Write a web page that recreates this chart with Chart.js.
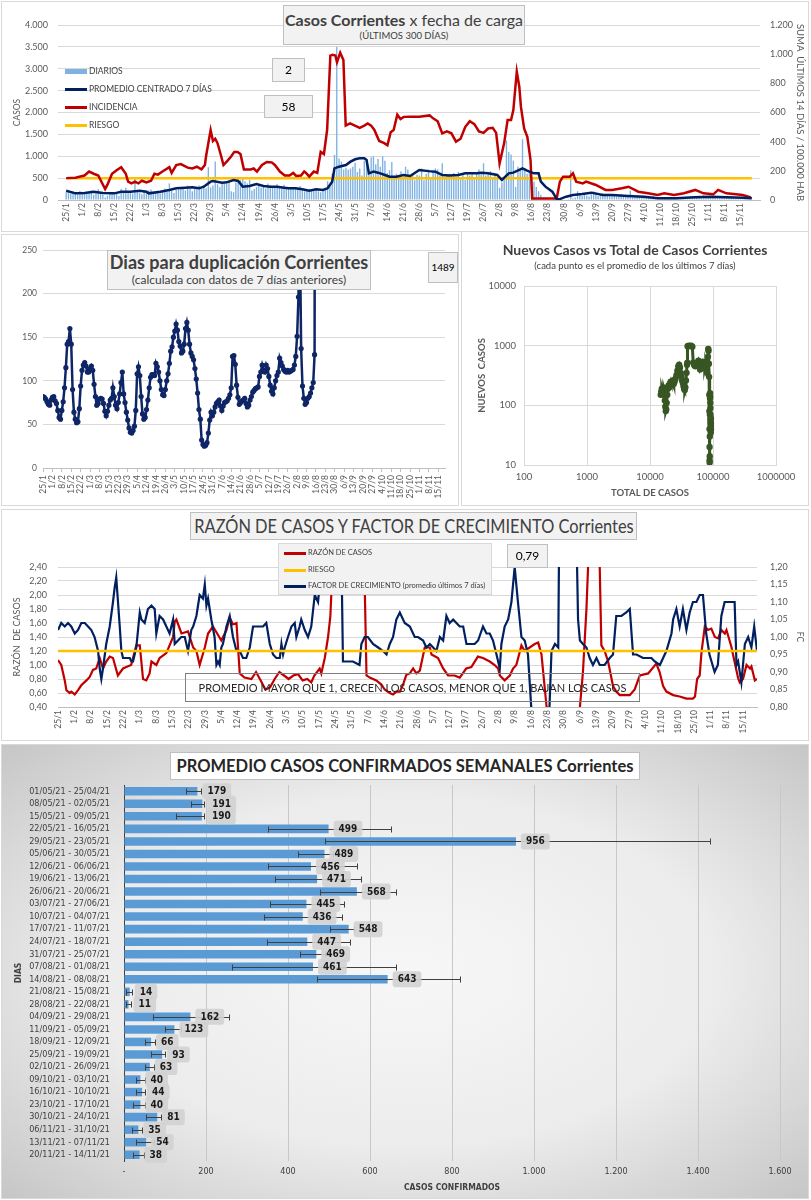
<!DOCTYPE html>
<html lang="es">
<head>
<meta charset="utf-8">
<title>Casos Corrientes</title>
<script src="https://cdn.jsdelivr.net/npm/chart.js@4.4.0/dist/chart.umd.min.js"></script>
<style>
  body { margin: 0; background: #fff; font-family: Lato, 'Open Sans', sans-serif; }
  #lienzo { position: relative; width: 811px; height: 1200px; overflow: hidden; }
  .panel { position: absolute; outline: 1px solid #d9d9d9; background: #fff; }
  .panel canvas { position: absolute; left: 0; top: 0; }
  .caja { position: absolute; box-sizing: border-box; background: #f2f2f2; border: 1px solid #bfbfbf;
          text-align: center; color: #404040; white-space: nowrap; }
  .leyenda { position: absolute; font-size: 8.5px; color: #404040; }
  .leyenda div { position: relative; height: 18px; line-height: 18px; padding-left: 24px; white-space: nowrap; }
  .leyenda span { position: absolute; left: 0; top: 8px; width: 22px; height: 3px; }
</style>
</head>
<body>
<div id="lienzo">
  <!-- panel 1: casos diarios -->
  <div class="panel" style="left:2px;top:2px;width:806px;height:229px;">
    <canvas id="graficoCasos" width="806" height="229"></canvas>
  </div>
  <div class="caja" style="left:283px;top:5px;width:242px;height:40px;">
    <div style="font-size:16px;line-height:21px;margin-top:3px;"><b>Casos Corrientes</b> x fecha de carga</div>
    <div style="font-size:9.5px;line-height:12px;">(ÚLTIMOS 300 DÍAS)</div>
  </div>
  <div class="leyenda" style="left:65px;top:62px;">
    <div><span style="background:#7FB2E0;height:5px;top:7px;"></span>DIARIOS</div>
    <div><span style="background:#002060;"></span>PROMEDIO CENTRADO 7 DÍAS</div>
    <div><span style="background:#C00000;"></span>INCIDENCIA</div>
    <div><span style="background:#FFC000;"></span>RIESGO</div>
  </div>
  <div class="caja" style="left:272px;top:58px;width:33px;height:24px;line-height:22px;font-size:12px;color:#000;">2</div>
  <div class="caja" style="left:264px;top:95px;width:49px;height:23px;line-height:21px;font-size:12px;color:#000;">58</div>

  <!-- panel 2: días para duplicación -->
  <div class="panel" style="left:2px;top:235px;width:456px;height:270px;">
    <canvas id="graficoDuplicacion" width="456" height="270"></canvas>
  </div>
  <div class="caja" style="left:107px;top:250px;width:264px;height:40px;">
    <div style="font-size:18px;line-height:21px;margin-top:1px;font-weight:bold;">Dias para duplicación Corrientes</div>
    <div style="font-size:12px;line-height:14px;">(calculada con datos de 7 días anteriores)</div>
  </div>
  <div class="caja" style="left:428px;top:252px;width:30px;height:31px;line-height:29px;font-size:10px;color:#000;">1489</div>

  <!-- panel 3: nuevos vs total -->
  <div class="panel" style="left:462px;top:232px;width:346px;height:273px;">
    <canvas id="graficoNuevos" width="346" height="273"></canvas>
  </div>
  <div style="position:absolute;left:462px;top:241px;width:346px;text-align:center;color:#404040;">
    <div style="font-size:14px;line-height:18px;font-weight:bold;">Nuevos Casos vs Total de Casos Corrientes</div>
    <div style="font-size:9.5px;line-height:13px;">(cada punto es el promedio de los últimos 7 días)</div>
  </div>

  <!-- panel 4: razón y factor de crecimiento -->
  <div class="panel" style="left:2px;top:510px;width:806px;height:230px;">
    <canvas id="graficoRazon" width="806" height="230"></canvas>
  </div>
  <div class="caja" style="left:190px;top:512px;width:447px;height:28px;line-height:26px;font-size:19.5px;">
    <span style="position:absolute;left:50%;top:0;transform:translateX(-50%) scaleX(0.84);">RAZÓN DE CASOS Y FACTOR DE CRECIMIENTO Corrientes</span>
  </div>
  <div class="caja leyenda" style="left:278px;top:543px;width:214px;height:52px;text-align:left;border-color:#d9d9d9;font-size:7.5px;padding-top:1px;">
    <div style="height:16.5px;line-height:16.5px;margin-left:5px;"><span style="background:#C00000;top:7px;"></span>RAZÓN DE CASOS</div>
    <div style="height:16.5px;line-height:16.5px;margin-left:5px;"><span style="background:#FFC000;top:7px;"></span>RIESGO</div>
    <div style="height:16.5px;line-height:16.5px;margin-left:5px;"><span style="background:#002060;top:7px;"></span>FACTOR DE CRECIMIENTO (promedio últimos 7 días)</div>
  </div>
  <div class="caja" style="left:507px;top:544px;width:41px;height:24px;line-height:22px;font-size:12px;color:#000;">0,79</div>
  <div class="caja" style="left:185px;top:673px;width:455px;height:29px;line-height:27px;font-size:11px;background:transparent;border-color:#7f7f7f;color:#262626;">PROMEDIO MAYOR QUE 1, CRECEN LOS CASOS, MENOR QUE 1, BAJAN LOS CASOS</div>

  <!-- panel 5: promedio semanal -->
  <div class="panel" style="left:2px;top:745px;width:806px;height:453px;background:radial-gradient(ellipse at 50% 50%, #f7f7f7 0%, #ececec 55%, #c6c6c6 100%);">
    <canvas id="graficoSemanal" width="806" height="453"></canvas>
  </div>
  <div class="caja" style="left:170px;top:752px;width:470px;height:28px;line-height:26px;font-size:16.5px;font-weight:bold;background:#fff;color:#262626;">PROMEDIO CASOS CONFIRMADOS SEMANALES Corrientes</div>
</div>

<script>
// ---- eje temporal (día 0 = 25/1/2021, últimos 300 días) ----
const fechasSemana = ['25/1','1/2','8/2','15/2','22/2','1/3','8/3','15/3','22/3','29/3','5/4','12/4','19/4','26/4',
  '3/5','10/5','17/5','24/5','31/5','7/6','14/6','21/6','28/6','5/7','12/7','19/7','26/7','2/8','9/8','16/8',
  '23/8','30/8','6/9','13/9','20/9','27/9','4/10','11/10','18/10','25/10','1/11','8/11','15/11'];

// casos diarios (barras), un valor por día
const diarios = [
  180,160,150,200,170,130,210,  190,150,140,170,220,120,170,  250,160,120,60,100,180,150,
  130,170,90,250,190,280,170,   190,150,480,210,160,130,200,  180,220,240,180,160,210,150,
  200,260,190,380,220,160,230,  240,300,260,220,330,250,200,  300,280,340,250,310,270,750,
  290,330,880,360,300,420,380,  380,450,200,180,400,420,460,  500,430,380,460,220,250,300,
  350,280,300,260,380,330,300,  310,360,300,280,350,290,270,  300,260,280,250,320,240,200,
  220,260,240,230,270,200,180,  250,280,430,350,600,1030,3500, 950,880,700,740,690,720,760,
  850,640,720,560,900,870,700,  980,1000,820,940,760,1000,900, 620,680,870,540,600,560,660,
  480,760,700,520,600,450,580,  560,720,450,600,700,520,650,  720,700,560,840,500,580,600,
  560,620,540,640,500,580,460,  600,560,640,480,620,700,580,  840,560,600,660,520,600,500,
  280,400,520,1360,1100,1040,900, 300,760,680,1390,720,600,640, 480,420,300,200,120,60,40,
  20,10,0,0,0,0,0,              0,10,20,680,40,60,200,        150,90,120,100,80,130,200,
  180,90,110,150,140,100,120,   90,110,80,100,130,90,70,      80,220,60,90,100,70,60,
  80,60,50,70,90,60,50,         50,40,60,30,50,40,60,         40,50,30,40,60,50,40,
  60,50,70,90,50,110,80,        70,60,80,100,50,60,70,        60,50,70,90,60,40,50,
  40,30,50,40,30,20
];

// promedio centrado 7 días [día, casos]
const promedio7 = [[0,213],[4,152],[8,160],[12,190],[16,160],[21,152],[24,190],[28,190],[32,213],[35,190],[36,152],
  [41,190],[45,229],[48,267],[52,280],[55,290],[58,267],[60,305],[63,419],[64,435],[68,396],[70,404],[73,457],[75,435],
  [77,305],[80,320],[83,366],[86,320],[89,305],[92,305],[95,282],[97,267],[100,267],[103,244],[106,213],[109,244],
  [112,229],[114,267],[116,419],[117,724],[119,762],[122,800],[124,876],[126,930],[128,952],[130,952],[131,914],
  [132,610],[134,648],[136,625],[139,572],[141,533],[144,533],[147,572],[150,550],[154,686],[158,660],[161,648],
  [164,572],[167,560],[171,572],[174,610],[179,610],[181,625],[184,610],[188,572],[190,457],[193,610],[195,625],
  [199,724],[201,670],[204,610],[206,610],[207,419],[209,305],[212,190],[214,15],[215,15],[218,76],[221,114],
  [225,137],[229,168],[234,114],[238,114],[245,91],[252,76],[258,38],[266,38],[274,61],[281,76],[288,61],[295,53],[299,38]];

// incidencia: suma últimos 14 días / 100.000 hab [día, valor]
const incidencia = [[0,150],[4,153],[8,168],[10,195],[12,180],[14,168],[17,75],[18,105],[20,180],[22,204],[24,225],
  [26,180],[27,126],[28.5,114],[30,126],[31.5,114],[33,132],[35,120],[37,132],[38.5,180],[40,174],[42,195],[45,225],
  [46,186],[48,240],[50,246],[53,222],[55,216],[57,228],[59,210],[60.5,240],[61,300],[63,480],[64,405],[65,420],
  [66,390],[67.6,300],[68.6,240],[70.4,270],[72,300],[73.3,330],[74.7,330],[76,315],[77.5,210],[80.4,210],[81.8,216],
  [83.2,195],[85.4,240],[87.5,261],[89.6,258],[91,240],[93.2,195],[95.3,168],[97.4,168],[99,186],[100.3,165],
  [102.4,168],[103.8,195],[104.6,186],[106,160],[108,195],[109.5,186],[111,330],[112.4,315],[113.8,480],[115.2,990],
  [116.2,995],[117.4,990],[118.1,945],[119.5,1010],[120.9,960],[121.9,510],[123.8,525],[125.9,510],[128,495],
  [130,510],[131.5,525],[133,510],[134.4,480],[136.5,405],[138.7,390],[140.1,375],[141.5,465],[142.8,480],
  [144.4,585],[145.8,555],[147.2,570],[150,571],[154,571],[158.5,580],[160,560],[162,540],[164,457],[166,470],
  [168,457],[170,400],[172,420],[174,500],[176,540],[178,520],[180,470],[182,460],[184,490],[186,495],[187.5,460],
  [189,251],[191,390],[192.5,549],[194,549],[195,617],[196.5,880],[197.6,777],[198.3,640],[199.7,491],[201.1,434],
  [202.5,274],[203.2,11],[213.9,11],[215.3,126],[216.7,160],[219.6,160],[221,183],[222.4,126],[225.3,114],
  [226.7,126],[231,103],[235.2,69],[238.1,69],[242.3,80],[245.2,91],[249.5,57],[253.7,46],[258,34],[260.8,46],
  [265.1,34],[269.4,46],[274.3,69],[277.9,46],[282.2,39],[284.3,69],[287.9,46],[292.1,39],[295,34],[298.6,18]];
const riesgoIncidencia = 150;

// días para duplicación, un valor por día desde 25/1
const duplicacion = [
  82,81,79,76,73,72,78,81,82,77,  74,66,58,56,66,76,92,115,142,145,  160,142,90,64,56,52,53,68,94,112,
  118,121,117,110,110,114,117,112,96,82,  72,74,79,80,79,74,65,60,65,72,  78,80,92,82,72,68,75,85,98,110,
  85,75,64,55,46,41,40,43,48,66,  108,116,106,82,62,56,58,67,78,92,  104,107,107,106,120,116,110,100,90,84,
  83,90,100,108,120,134,139,150,157,165,  158,145,140,132,134,142,160,167,158,142,  132,128,124,114,102,86,67,56,32,27,
  25,26,29,40,55,64,60,64,70,74,  76,78,71,66,71,75,76,77,80,84,  92,128,129,119,95,81,73,75,77,78,
  80,74,70,72,78,82,87,89,91,92,  93,105,110,118,112,110,118,114,105,95,  88,85,92,100,106,110,126,121,117,113,
  111,110,112,110,111,112,113,118,128,151,  196,280,137,94,80,73,75,80,82,86,  92,98,130,1489
];

// nuevos casos (promedio 7 días) vs total acumulado
const totalCasos = [14800,15100,15400,15700,16000,16300,16600,16900,17200,17500,17800,18100,18400,18800,19200,19700,
  20200,20700,21300,21900,22500,23200,23900,24600,25400,26300,27200,28100,29000,29900,30800,31600,32400,33200,34000,
  34800,35600,36400,37200,38000,38700,39200,39500,41000,43000,45000,47000,48500,50500,52500,54500,56500,58500,60500,
  62500,64500,66500,68500,70500,72500,74000,75500,77000,78500,80000,81000,82000,83000,84000,85000,86000,86800,87300,
  87700,88000,88200,88400,88600,88800,89000,89300,89600,89900,90200,90500,90800,91000,91200,91400,91600,91800,92000,
  92200,92400,92600,92800,93000];
const nuevosCasos = [150,170,190,175,160,200,185,150,120,95,80,85,110,150,190,215,
  200,230,250,220,240,260,230,250,280,320,380,450,480,430,350,300,260,240,210,
  190,180,200,260,350,480,520,980,1000,990,1000,960,520,470,450,500,520,560,480,
  400,430,520,540,500,450,420,460,520,480,400,350,480,650,880,820,500,300,150,
  80,40,20,12,11,14,30,70,130,160,140,110,90,70,60,55,50,40,45,
  35,50,60,45,40];

// razón de casos [día, razón] y factor de crecimiento [día, FC]
const razonCasos = [[0,1.07],[1.4,1.00],[2.9,0.78],[3.6,0.64],[5,0.60],[5.7,0.62],[7.2,0.58],[8.6,0.64],[10,0.71],
  [12.2,0.78],[13.6,0.83],[15,0.93],[16.4,0.95],[17.9,1.10],[19.3,0.95],[20.7,1.05],[22.2,1.12],[23.6,1.10],[25.7,0.85],
  [27.9,0.95],[29.3,0.97],[31.4,1.00],[33.6,1.28],[35.1,1.28],[36.5,0.80],[37.9,0.78],[39.3,0.88],[40.1,1.05],[42.2,1.00],
  [43.6,1.10],[46.5,1.17],[49.4,1.40],[50.1,1.62],[50.8,1.65],[53,1.45],[55.8,1.48],[58,1.25],[59.4,1.20],[60.8,1.00],
  [63,1.25],[64.4,1.45],[66.5,1.55],[70.1,1.35],[72.3,1.50],[73.7,1.68],[75.1,1.58],[76.6,1.60],[78,0.88],[80,0.82],
  [83,0.80],[85,0.90],[87,0.78],[89,0.65],[91,0.68],[93,0.80],[95,0.90],[97,0.85],[99,0.80],[101,0.85],[103,0.87],
  [105,0.78],[107,0.80],[108.7,0.75],[110,0.85],[112.3,0.95],[113,0.88],[114.5,1.10],[115.9,1.40],[116.9,1.70],
  [117.8,2.40],[118.5,3.5],[130,3.5],[131.6,2.2],[132.4,0.85],[133.8,0.82],[136.6,0.78],[138.8,0.72],[140.2,0.65],
  [142.4,0.60],[143.8,0.58],[145.2,0.62],[146.7,0.62],[148.1,0.72],[149.5,0.86],[151,0.88],[152.4,0.95],[153.8,0.88],
  [155.3,0.92],[157.4,1.25],[159.6,1.25],[160.3,1.15],[163.1,1.10],[165.3,0.95],[167.4,0.85],[170.2,0.85],[172.4,0.82],
  [175.2,0.95],[177.4,0.97],[180.2,1.12],[182.4,1.10],[185.3,1.05],[187.4,1.00],[188.9,0.95],[189.6,0.85],[191.7,0.78],
  [193.9,0.85],[195.3,0.95],[196.7,1.00],[198.9,1.28],[200.3,1.20],[204.6,1.30],[206.1,1.32],[207.5,1.15],[209.7,0.40],
  [211,0.1],[223,0.1],[224,0.40],[225.3,0.90],[226.8,1.80],[227.5,2.40],[228.2,3.5],[232,3.5],[232.5,2.4],[233.2,1.28],
  [234.6,1.20],[236.1,1.05],[237,0.90],[238.2,0.70],[239.6,0.62],[241.1,0.57],[245.4,0.57],[247.5,0.65],[249.7,0.85],
  [253.3,0.88],[256.8,1.02],[258.2,0.90],[259.7,0.70],[261.1,0.62],[264,0.57],[266.8,0.55],[269.7,0.52],[272.5,0.52],
  [273.4,0.55],[274.3,0.80],[275.4,0.85],[276.2,1.19],[277.6,1.55],[279,1.50],[280.4,1.52],[281.9,1.40],[283.3,1.38],
  [284.7,1.50],[286.2,1.45],[286.9,1.50],[289,1.26],[289.7,1.15],[291.9,0.81],[292.6,0.75],[294,0.80],[295.5,1.00],
  [297,0.95],[297.6,0.98],[299.1,0.78],[300,0.80]];
const factorCrecimiento = [[0,1.02],[1.4,1.04],[2.9,1.03],[4.3,1.04],[5.7,1.03],[7.2,1.01],[8.6,1.02],[10,1.04],
  [11.5,1.04],[12.9,1.03],[14.3,1.02],[15.7,1.00],[17.2,0.96],[17.9,0.91],[18.6,0.88],[19.3,0.91],[20.7,0.98],[22.2,1.03],
  [23.6,1.10],[24.3,1.14],[25,1.17],[26.5,1.03],[27.2,0.96],[27.9,0.94],[29.3,0.94],[30.8,0.94],[31.5,0.93],[32.2,0.93],
  [33.6,0.97],[35.1,1.07],[35.8,1.05],[37.2,1.04],[38.6,1.08],[40.1,1.09],[41.5,1.08],[42.2,1.01],[43.6,1.06],[45.1,1.05],
  [46.5,1.03],[47.9,1.01],[49.4,1.05],[50.1,0.98],[51.5,0.99],[52.9,1.00],[54.4,1.00],[55.8,0.96],[57.2,1.02],[58,1.03],
  [59.4,1.06],[60.8,1.12],[62.2,1.11],[63,1.15],[63.7,1.09],[64.4,1.11],[65.8,1.05],[67.2,1.00],[68,0.92],[68.7,0.93],
  [69.4,0.92],[70.1,0.97],[70.8,0.98],[72.3,1.03],[73.7,1.06],[75.1,1.00],[76.6,0.96],[78,0.96],[79.4,0.94],[80.8,0.94],
  [82.3,0.97],[83.7,1.03],[85.1,1.03],[86.6,1.03],[88,1.03],[89.4,1.04],[90.9,0.98],[92.3,0.95],[93.7,0.94],[95.2,0.94],
  [95.9,0.98],[96.6,0.95],[97.3,0.97],[98.7,1.00],[100.2,1.03],[101.6,1.04],[102.3,1.00],[103.7,1.03],[104.4,1.05],
  [105.9,1.02],[107.3,1.00],[108.7,1.03],[110.2,1.12],[111.6,1.10],[113,1.20],[114,1.30],[121.5,1.30],[122.3,0.93],
  [123.7,0.93],[126.6,0.93],[129.4,0.92],[130.2,0.98],[131.6,1.00],[133,1.00],[135.2,0.98],[137.4,0.97],[139.5,0.96],
  [141,0.95],[142.4,0.98],[143.8,1.00],[145.2,1.05],[146.7,1.07],[148.8,1.04],[151,1.03],[153.1,1.00],[154.5,1.00],
  [156.7,0.99],[158.1,0.97],[159.6,0.98],[161,0.97],[162.4,0.96],[163.9,1.00],[165.3,0.99],[166.7,1.06],[168.1,1.04],
  [169.6,1.05],[171,1.04],[172.4,1.03],[173.9,1.03],[175.3,0.98],[176.7,0.98],[178.8,0.98],[180.3,0.99],[182.4,1.03],
  [183.9,1.01],[185.3,1.01],[186.7,0.99],[188.2,0.95],[189.6,0.91],[190.3,0.98],[191.7,1.03],[193.2,1.05],[194.6,1.10],
  [196,1.20],[197.4,1.10],[198.9,1.00],[200.3,0.99],[201.7,0.95],[203.1,0.80],[203.8,0.70],[210.4,0.70],[211.8,0.96],
  [213.3,0.98],[214.7,0.97],[215.1,1.30],[222.5,1.30],[223.2,1.05],[224,0.99],[225.3,0.98],[226.8,0.97],[228.2,0.94],
  [229.6,0.92],[231.1,0.94],[232.5,0.92],[234.6,0.92],[236.8,0.94],[238.2,0.95],[239.6,1.06],[241.8,1.06],[243.9,1.07],
  [245.4,1.08],[246.8,0.95],[248.3,0.95],[251.1,0.94],[253.3,0.94],[254.7,0.94],[256.1,0.93],[258.3,0.92],[259.7,0.94],
  [261.1,0.96],[263.3,1.01],[264,1.05],[265.4,1.08],[266.8,1.03],[268.2,1.08],[269.7,1.02],[271.1,1.07],[272.5,1.10],
  [274,1.10],[275.4,1.12],[276.8,1.12],[278.2,1.01],[279.6,0.95],[281.8,0.90],[283.2,0.92],[284.7,1.06],[286.1,1.10],
  [288.3,1.10],[290.4,1.10],[291.2,0.92],[291.9,0.93],[293.3,0.87],[294.8,0.98],[296.2,1.00],[297.6,0.97],[298.8,1.03],
  [300,0.96]];
const riesgoRazon = 1.20;

// promedio semanal de casos confirmados
const semanas = ['01/05/21 - 25/04/21','08/05/21 - 02/05/21','15/05/21 - 09/05/21','22/05/21 - 16/05/21',
  '29/05/21 - 23/05/21','05/06/21 - 30/05/21','12/06/21 - 06/06/21','19/06/21 - 13/06/21','26/06/21 - 20/06/21',
  '03/07/21 - 27/06/21','10/07/21 - 04/07/21','17/07/21 - 11/07/21','24/07/21 - 18/07/21','31/07/21 - 25/07/21',
  '07/08/21 - 01/08/21','14/08/21 - 08/08/21','21/08/21 - 15/08/21','28/08/21 - 22/08/21','04/09/21 - 29/08/21',
  '11/09/21 - 05/09/21','18/09/21 - 12/09/21','25/09/21 - 19/09/21','02/10/21 - 26/09/21','09/10/21 - 03/10/21',
  '16/10/21 - 10/10/21','23/10/21 - 17/10/21','30/10/21 - 24/10/21','06/11/21 - 31/10/21','13/11/21 - 07/11/21',
  '20/11/21 - 14/11/21'];
const promedioSemanal = [179,191,190,499,956,489,456,471,568,445,436,548,447,469,461,643,14,11,162,123,66,93,63,40,44,40,81,35,54,38];
const errorMin = [150,163,128,350,490,425,350,368,478,356,342,502,348,429,263,471,5,5,71,100,50,65,52,30,30,22,53,20,30,22];
const errorMax = [188,196,196,650,1430,510,568,578,663,537,532,560,550,490,663,820,20,17,256,140,75,100,72,50,52,50,90,45,72,48];

// ---- utilidades ----
Chart.defaults.font.family = "Lato, 'Open Sans', sans-serif";
Chart.defaults.color = '#595959';
Chart.defaults.animation = false;
Chart.defaults.plugins.legend.display = false;
Chart.defaults.plugins.tooltip.enabled = false;
const fuenteAngosta = "'DejaVu Sans Condensed', 'Liberation Sans Narrow', Lato, sans-serif";

const fmtMiles = v => String(v).replace(/\B(?=(\d{3})+(?!\d))/g, '.');
const fmtComa = v => v.toFixed(2).replace('.', ',');
const pares = arr => arr.map(([x, y]) => ({ x, y }));
const fijarAncho = w => s => { s.width = w; };
const fijarAlto = h => s => { s.height = h; };

function ejeFechas(max, alto, conMarcas) {
  return {
    type: 'linear', min: 0, max,
    afterBuildTicks: s => { s.ticks = fechasSemana.map((_, i) => ({ value: i * 7 })); },
    afterFit: fijarAlto(alto),
    ticks: { autoSkip: false, minRotation: 90, maxRotation: 90, padding: 3, font: { size: 8.5 },
             callback: v => fechasSemana[Math.round(v / 7)] },
    grid: { drawOnChartArea: false, drawTicks: conMarcas, tickLength: 4, color: '#bfbfbf' },
    border: { color: '#bfbfbf' }
  };
}

// ---- 1: casos corrientes x fecha de carga ----
new Chart(document.getElementById('graficoCasos'), {
  type: 'bar',
  data: {
    datasets: [
      { type: 'line', data: pares(promedio7), yAxisID: 'yCasos', borderColor: '#002060', borderWidth: 2.5, pointRadius: 0, order: 1 },
      { type: 'line', data: pares(incidencia), yAxisID: 'yInc', borderColor: '#C00000', borderWidth: 2.5, pointRadius: 0, order: 2 },
      { type: 'line', data: [{ x: 0, y: riesgoIncidencia }, { x: 299, y: riesgoIncidencia }], yAxisID: 'yInc',
        borderColor: '#FFC000', borderWidth: 2.5, pointRadius: 0, order: 3 },
      { type: 'bar', data: diarios.map((v, i) => ({ x: i, y: v })), yAxisID: 'yCasos', backgroundColor: '#7FB2E0',
        barPercentage: 0.6, categoryPercentage: 1, order: 4 }
    ]
  },
  options: {
    responsive: false,
    layout: { padding: { top: 23 } },
    scales: {
      x: ejeFechas(299, 31, false),
      yCasos: {
        position: 'left', min: 0, max: 4000, afterFit: fijarAncho(56),
        ticks: { stepSize: 500, padding: 10, font: { size: 9 }, callback: fmtMiles },
        grid: { color: '#d9d9d9', drawTicks: false }, border: { display: false },
        title: { display: true, text: 'CASOS', font: { size: 8.5 }, padding: { top: 10, bottom: 0 } }
      },
      yInc: {
        position: 'right', min: 0, max: 1200, afterFit: fijarAncho(48),
        ticks: { stepSize: 200, padding: 10, font: { size: 9 }, callback: fmtMiles },
        grid: { drawOnChartArea: false, drawTicks: false }, border: { display: false },
        title: { display: true, text: 'SUMA  ÚLTIMOS 14 DÍAS / 100.000 HAB', font: { size: 9.5 }, padding: { top: 2, bottom: 0 } }
      }
    }
  }
});

// ---- 2: días para duplicación ----
new Chart(document.getElementById('graficoDuplicacion'), {
  type: 'line',
  data: {
    datasets: [{ data: duplicacion.map((v, i) => ({ x: i, y: v })), borderColor: '#0E2566', backgroundColor: '#0E2566',
      borderWidth: 2.5, pointRadius: 2.6, pointBorderWidth: 0 }]
  },
  options: {
    responsive: false,
    layout: { padding: { top: 15, right: 13 } },
    scales: {
      x: ejeFechas(299, 37, true),
      y: {
        min: 0, max: 250, afterFit: fijarAncho(41),
        ticks: { stepSize: 50, padding: 6, font: { size: 8.5 } },
        grid: { color: '#d9d9d9', drawTicks: false }, border: { display: false }
      }
    }
  }
});

// ---- 3: nuevos casos vs total ----
const decadas = (a, b) => s => { s.ticks = []; for (let v = a; v <= b; v *= 10) s.ticks.push({ value: v }); };
new Chart(document.getElementById('graficoNuevos'), {
  type: 'scatter',
  data: {
    datasets: [{ data: totalCasos.map((x, i) => ({ x, y: nuevosCasos[i] })), showLine: true,
      borderColor: '#375623', backgroundColor: '#375623', borderWidth: 3, pointRadius: 3.2, pointBorderWidth: 0 }]
  },
  options: {
    responsive: false,
    layout: { padding: { top: 54, right: 32 } },
    scales: {
      x: {
        type: 'logarithmic', min: 100, max: 1000000, afterBuildTicks: decadas(100, 1000000), afterFit: fijarAlto(40),
        ticks: { padding: 6, font: { size: 9.5 }, callback: v => String(v) },
        grid: { color: '#d9d9d9', drawTicks: false }, border: { color: '#d9d9d9' },
        title: { display: true, text: 'TOTAL DE CASOS', font: { size: 9.5, weight: 'bold' }, padding: { top: 0, bottom: 6 } }
      },
      y: {
        type: 'logarithmic', min: 10, max: 10000, afterBuildTicks: decadas(10, 10000), afterFit: fijarAncho(62),
        ticks: { padding: 8, font: { size: 9.5 }, callback: v => String(v) },
        grid: { color: '#d9d9d9', drawTicks: false }, border: { color: '#d9d9d9' },
        title: { display: true, text: 'NUEVOS  CASOS', font: { size: 9.5, weight: 'bold' }, padding: { top: 14, bottom: 0 } }
      }
    }
  }
});

// ---- 4: razón de casos y factor de crecimiento ----
new Chart(document.getElementById('graficoRazon'), {
  type: 'line',
  data: {
    datasets: [
      { data: [{ x: 0, y: riesgoRazon }, { x: 300, y: riesgoRazon }], yAxisID: 'yRazon', borderColor: '#FFC000',
        borderWidth: 2.5, pointRadius: 0, order: 0 },
      { data: pares(factorCrecimiento), yAxisID: 'yFC', borderColor: '#002060', borderWidth: 2.2, pointRadius: 0, order: 1 },
      { data: pares(razonCasos), yAxisID: 'yRazon', borderColor: '#C00000', borderWidth: 2.2, pointRadius: 0, order: 2 }
    ]
  },
  options: {
    responsive: false,
    layout: { padding: { top: 57 } },
    scales: {
      x: ejeFechas(300, 33, false),
      yRazon: {
        position: 'left', min: 0.4, max: 2.4, afterFit: fijarAncho(56),
        ticks: { stepSize: 0.2, padding: 11, font: { size: 9 }, callback: fmtComa },
        grid: { color: '#d9d9d9', drawTicks: false }, border: { display: false },
        title: { display: true, text: 'RAZÓN  DE CASOS', font: { size: 9 }, padding: { top: 10, bottom: 0 } }
      },
      yFC: {
        position: 'right', min: 0.8, max: 1.2, afterFit: fijarAncho(51),
        ticks: { stepSize: 0.05, padding: 13, font: { size: 9 }, callback: fmtComa },
        grid: { drawOnChartArea: false, drawTicks: false }, border: { display: false },
        title: { display: true, text: 'FC', font: { size: 8.5 }, padding: { top: 3, bottom: 0 } }
      }
    }
  }
});

// ---- 5: promedio casos confirmados semanales ----
const barrasError = {
  id: 'barrasError',
  afterDatasetsDraw(chart) {
    const { ctx } = chart;
    const x = chart.scales.x;
    const meta = chart.getDatasetMeta(0);
    ctx.save();
    ctx.strokeStyle = '#404040';
    ctx.lineWidth = 1;
    meta.data.forEach((barra, i) => {
      const x1 = Math.round(x.getPixelForValue(errorMin[i])) + 0.5;
      const x2 = Math.round(x.getPixelForValue(errorMax[i])) + 0.5;
      const y = Math.round(barra.y) + 0.5;
      ctx.beginPath();
      ctx.moveTo(x1, y); ctx.lineTo(x2, y);
      ctx.moveTo(x1, y - 3); ctx.lineTo(x1, y + 3);
      ctx.moveTo(x2, y - 3); ctx.lineTo(x2, y + 3);
      ctx.stroke();
    });
    ctx.font = 'bold 10px ' + fuenteAngosta;
    ctx.textBaseline = 'middle';
    meta.data.forEach((barra, i) => {
      const txt = String(promedioSemanal[i]);
      const w = ctx.measureText(txt).width + 10;
      const bx = barra.x + 5;
      ctx.fillStyle = 'rgba(210,210,210,0.9)';
      ctx.beginPath();
      ctx.roundRect(bx, barra.y - 8, w, 16, 3);
      ctx.fill();
      ctx.fillStyle = '#1a1a1a';
      ctx.fillText(txt, bx + 5, barra.y + 0.5);
    });
    ctx.restore();
  }
};

new Chart(document.getElementById('graficoSemanal'), {
  type: 'bar',
  data: {
    labels: semanas,
    datasets: [{ data: promedioSemanal, backgroundColor: '#5B9BD5', barPercentage: 0.68, categoryPercentage: 1 }]
  },
  options: {
    responsive: false,
    indexAxis: 'y',
    layout: { padding: { top: 40, right: 28 } },
    scales: {
      x: {
        min: 0, max: 1600, afterFit: fijarAlto(37),
        ticks: { stepSize: 200, padding: 5, color: '#404040', font: { size: 9, family: fuenteAngosta },
                 callback: v => v === 0 ? '-' : fmtMiles(v) },
        grid: { color: '#c8c8c8', drawTicks: false }, border: { display: false },
        title: { display: true, text: 'CASOS CONFIRMADOS', color: '#404040',
                 font: { size: 8.5, weight: 'bold', family: fuenteAngosta }, padding: { top: 0, bottom: 5 } }
      },
      y: {
        afterFit: fijarAncho(122),
        ticks: { autoSkip: false, padding: 6, color: '#404040', font: { size: 9, family: fuenteAngosta } },
        grid: { display: false }, border: { display: true, color: '#404040' },
        title: { display: true, text: 'DIAS', color: '#404040',
                 font: { size: 8.5, weight: 'bold', family: fuenteAngosta }, padding: { top: 12, bottom: 0 } }
      }
    }
  },
  plugins: [barrasError]
});
</script>
</body>
</html>
